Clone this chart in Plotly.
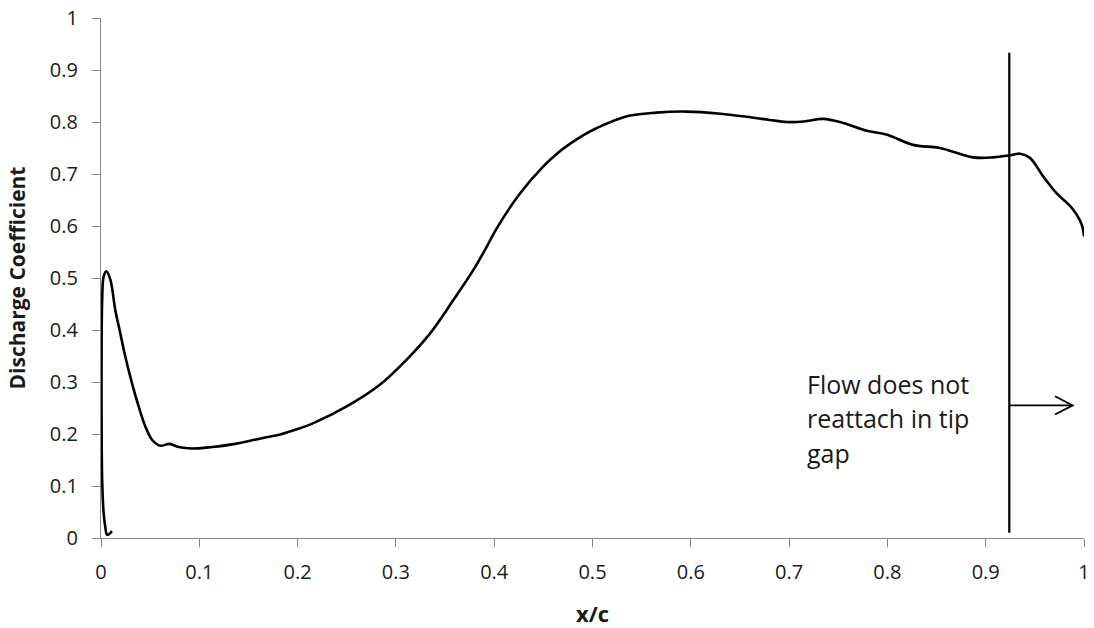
import plotly.graph_objects as go

# Discharge coefficient along the chord (x/c)
x_c = [0.0112, 0.0062, 0.0043, 0.0027, 0.0012, 0.0006, 0.0006, 0.0012, 0.0027,
       0.0054, 0.0095, 0.0145, 0.0196, 0.0247, 0.0315, 0.0383, 0.0450, 0.0519,
       0.0603, 0.0695, 0.0790, 0.0925, 0.1130, 0.1366, 0.1637, 0.1823, 0.1976,
       0.2160, 0.2500, 0.2840, 0.3110, 0.3350, 0.3586, 0.3790, 0.3926, 0.4027,
       0.4264, 0.4500, 0.4650, 0.4770, 0.4900, 0.5040, 0.5350, 0.5650, 0.5960,
       0.6300, 0.6570, 0.6800, 0.6977, 0.7150, 0.7350, 0.7550, 0.7790, 0.7990,
       0.8260, 0.8535, 0.8870, 0.9080, 0.9247, 0.9350, 0.9450, 0.9586, 0.9720,
       0.9875, 0.9977, 1.0000]
cd = [0.013, 0.006, 0.022, 0.048, 0.110, 0.234, 0.362, 0.458, 0.503,
      0.513, 0.497, 0.439, 0.394, 0.349, 0.298, 0.253, 0.215, 0.189,
      0.1775, 0.181, 0.175, 0.172, 0.175, 0.181, 0.192, 0.199, 0.208,
      0.221, 0.253, 0.295, 0.343, 0.394, 0.458, 0.516, 0.561, 0.596,
      0.663, 0.7146, 0.741, 0.758, 0.774, 0.788, 0.811, 0.818, 0.820,
      0.816, 0.810, 0.804, 0.800, 0.801, 0.806, 0.798, 0.783, 0.776,
      0.756, 0.750, 0.732, 0.732, 0.736, 0.739, 0.731, 0.695, 0.663,
      0.635, 0.6025, 0.580]

tick_vals = [0, 0.1, 0.2, 0.3, 0.4, 0.5, 0.6, 0.7, 0.8, 0.9, 1]
tick_text = ["0", "0.1", "0.2", "0.3", "0.4", "0.5", "0.6", "0.7", "0.8", "0.9", "1"]

# Reattachment marker and arrow
marker_x = 0.924
marker_y = [0.01, 0.933]
arrow_x = [0.924, 0.9885]
arrow_y = 0.255

note_lines = ["Flow does not", "reattach in tip", "gap"]

FONT = "Open Sans"
AXIS_GREY = "#868686"
TEXT = "#1a1a1a"

fig = go.Figure()
fig.add_trace(go.Scatter(
    x=x_c, y=cd, mode="lines",
    line=dict(color="black", width=2.6, shape="spline", smoothing=1.0),
    showlegend=False, hoverinfo="skip",
))

fig.add_shape(type="line", xref="x", yref="y",
              x0=marker_x, x1=marker_x, y0=marker_y[0], y1=marker_y[1],
              line=dict(color="black", width=2.2))
fig.add_shape(type="line", xref="x", yref="y",
              x0=arrow_x[0], x1=arrow_x[1], y0=arrow_y, y1=arrow_y,
              line=dict(color="black", width=1.8))
fig.add_shape(type="path", xref="x", yref="y",
              path=f"M {arrow_x[1] - 0.018},{arrow_y + 0.0175} L {arrow_x[1]},{arrow_y} "
                   f"L {arrow_x[1] - 0.018},{arrow_y - 0.0175}",
              line=dict(color="black", width=1.8))

# Three-line note, one annotation per line for wider line spacing
for i, line in enumerate(note_lines):
    fig.add_annotation(
        x=0.716, y=0.296 - i * 0.066, xref="x", yref="y",
        xanchor="left", yanchor="middle",
        text=line, showarrow=False, align="left",
        font=dict(family=FONT, size=25, color=TEXT),
    )

axis_common = dict(
    range=[0, 1], tickvals=tick_vals, ticktext=tick_text,
    showgrid=False, zeroline=False, showline=True,
    linecolor=AXIS_GREY, linewidth=1.3,
    ticks="outside", ticklen=8, tickcolor=AXIS_GREY, tickwidth=1.3,
    tickfont=dict(family=FONT, size=20, color=TEXT),
)

fig.update_xaxes(**axis_common, ticklabelstandoff=8,
                 title=dict(text="<b>x/c</b>", standoff=24,
                            font=dict(family=FONT, size=22, color=TEXT)))
fig.update_yaxes(**axis_common, ticklabelstandoff=10,
                 title=dict(text="<b>Discharge Coefficient</b>", standoff=18,
                            font=dict(family=FONT, size=21, color=TEXT)))

fig.update_layout(
    width=1094, height=628,
    margin=dict(l=101, r=10, t=18, b=90, autoexpand=False),
    paper_bgcolor="white", plot_bgcolor="white",
)

fig.write_html("out.html")
